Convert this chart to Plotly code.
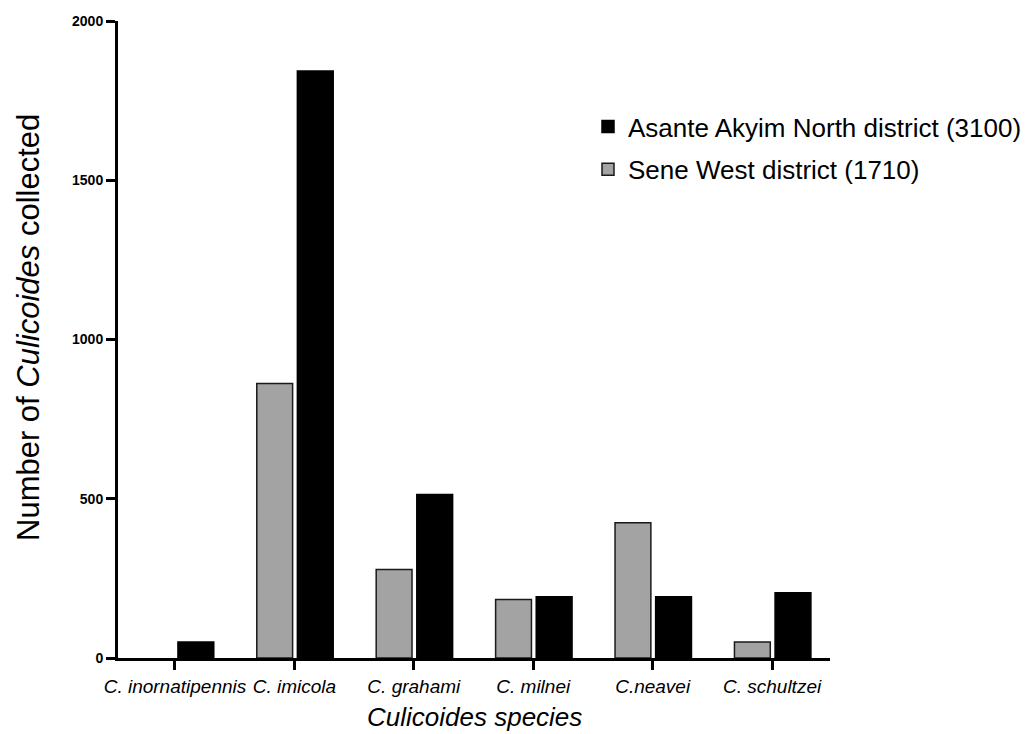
import plotly.graph_objects as go

# Culicoides counts per species in the two districts (None = none recorded)
species = ["C. inornatipennis", "C. imicola", "C. grahami", "C. milnei", "C.neavei", "C. schultzei"]
sene_west = [None, 862, 278, 184, 425, 50]
asante_akyim = [50, 1843, 513, 192, 192, 205]
sene_name = "Sene West district (1710)"
asante_name = "Asante Akyim North district (3100)"
y_ticks = [0, 500, 1000, 1500, 2000]

FONT = "Liberation Sans, Arial, sans-serif"

fig = go.Figure()
fig.add_trace(go.Bar(
    x=species, y=sene_west, name=sene_name, legendgroup="sene", legendrank=2,
    width=0.30, offset=-0.315,
    marker=dict(color="#a3a3a3", line=dict(color="#1a1a1a", width=1.5)),
))
fig.add_trace(go.Bar(
    x=species, y=asante_akyim, name=asante_name, legendgroup="asante", legendrank=1,
    width=0.30, offset=0.025,
    marker=dict(color="#000000", line=dict(color="#000000", width=1.5)),
))

fig.update_layout(
    width=1025, height=734,
    margin=dict(l=118, r=195, t=21, b=76, autoexpand=False),
    paper_bgcolor="white", plot_bgcolor="white",
    barmode="group",
    showlegend=True,
    legend=dict(
        xref="container", yref="container",
        x=588 / 1025, y=1 - 103 / 734,
        xanchor="left", yanchor="top",
        traceorder="grouped", tracegroupgap=6,
        font=dict(family=FONT, size=26, color="black"),
        bgcolor="rgba(0,0,0,0)",
    ),
    font=dict(family=FONT, color="black"),
)

fig.update_xaxes(
    range=[-0.477, 5.485],
    showline=True, linecolor="black", linewidth=3,
    ticks="outside", ticklen=9, tickwidth=2.5, tickcolor="black",
    tickfont=dict(family=FONT, size=19, style="italic", color="black"),
    showgrid=False, zeroline=False,
)
fig.update_yaxes(
    range=[0, 2000],
    tickvals=y_ticks,
    showline=True, linecolor="black", linewidth=3,
    ticks="outside", ticklen=9, tickwidth=2.5, tickcolor="black",
    tickfont=dict(family=FONT, size=14, weight="bold", color="black"),
    showgrid=False, zeroline=False,
)

# Axis titles
fig.add_annotation(
    xref="paper", yref="paper", x=(28 - 118) / 712, y=(658 - 328) / 637,
    text="Number of <i>Culicoides</i> collected", textangle=-90,
    showarrow=False, xanchor="center", yanchor="middle",
    font=dict(family=FONT, size=31, color="black"),
)
fig.add_annotation(
    xref="paper", yref="paper", x=(474 - 118) / 712, y=(658 - 717) / 637,
    text="<i>Culicoides species</i>",
    showarrow=False, xanchor="center", yanchor="middle",
    font=dict(family=FONT, size=26, color="black"),
)

fig.write_html("out.html")
